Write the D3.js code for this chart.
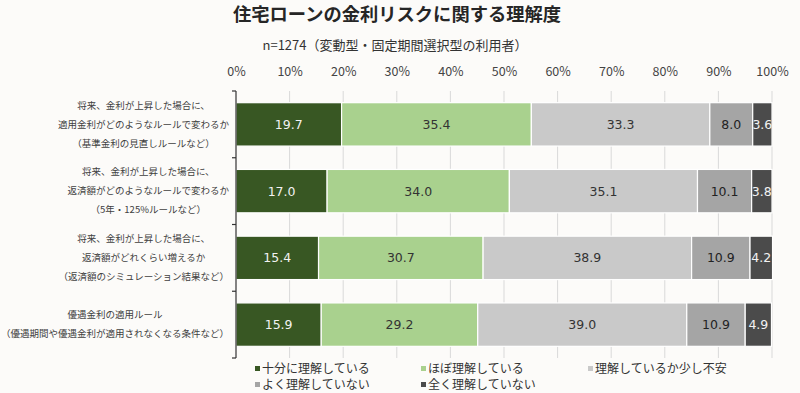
<!DOCTYPE html>
<html>
<head>
<meta charset="utf-8">
<script src="https://cdn.jsdelivr.net/npm/d3@7"></script>
<style>
  html, body { margin: 0; padding: 0; background: #fcfbf9; }
  svg { display: block; }
</style>
</head>
<body>
<div id="chart"></div>
<script>
const title = "住宅ローンの金利リスクに関する理解度";
const subtitle = "n=1274（変動型・固定期間選択型の利用者）";

const categories = [
  ["将来、金利が上昇した場合に、", "適用金利がどのようなルールで変わるか", "（基準金利の見直しルールなど）"],
  ["将来、金利が上昇した場合に、", "返済額がどのようなルールで変わるか", "（5年・125%ルールなど）"],
  ["将来、金利が上昇した場合に、", "返済額がどれくらい増えるか", "（返済額のシミュレーション結果など）"],
  ["優遇金利の適用ルール", "（優遇期間や優遇金利が適用されなくなる条件など）"]
];

const seriesNames = ["十分に理解している", "ほぼ理解している", "理解しているか少し不安", "よく理解していない", "全く理解していない"];

const fullyUnderstand = [19.7, 17.0, 15.4, 15.9];
const mostlyUnderstand = [35.4, 34.0, 30.7, 29.2];
const slightlyUnsure = [33.3, 35.1, 38.9, 39.0];
const notWell = [8.0, 10.1, 10.9, 10.9];
const notAtAll = [3.6, 3.8, 4.2, 4.9];

const xTicks = [0, 10, 20, 30, 40, 50, 60, 70, 80, 90, 100];

const colors = ["#385723", "#a9d18e", "#c9c9c9", "#a5a5a5", "#4b4b4b"];
const labelColors = ["#f2f2f2", "#333", "#333", "#222", "#f2f2f2"];

const width = 800;
const height = 393;
const margin = { top: 91, right: 28, bottom: 35, left: 236 };

const jp = "'Noto Sans CJK JP', 'Noto Sans', sans-serif";
const num = "'DejaVu Sans', 'Noto Sans CJK JP', sans-serif";

const series = [fullyUnderstand, mostlyUnderstand, slightlyUnsure, notWell, notAtAll];

const rows = categories.map((c, i) => {
  let acc = 0;
  const segs = series.map((s, k) => {
    const seg = { k, v: s[i], x0: acc, x1: acc + s[i] };
    acc += s[i];
    return seg;
  });
  return { i, segs };
});

const x = d3.scaleLinear()
  .domain([0, 100])
  .range([margin.left, width - margin.right]);

const y = d3.scaleBand()
  .domain(d3.range(categories.length))
  .range([margin.top, height - margin.bottom])
  .paddingInner(0.35)
  .paddingOuter(0.175);

const svg = d3.select("#chart")
  .append("svg")
  .attr("width", width)
  .attr("height", height);

// title
svg.append("text")
  .attr("x", 397)
  .attr("y", 21)
  .attr("text-anchor", "middle")
  .style("font-family", jp)
  .style("font-weight", "bold")
  .style("font-size", "18.3px")
  .attr("fill", "#262626")
  .text(title);

svg.append("text")
  .attr("x", 395)
  .attr("y", 50)
  .attr("text-anchor", "middle")
  .style("font-family", jp)
  .style("font-size", "13px")
  .attr("fill", "#333")
  .text(subtitle);

// gridlines
svg.append("g")
  .selectAll("line")
  .data(xTicks.slice(1))
  .join("line")
  .attr("x1", d => x(d))
  .attr("x2", d => x(d))
  .attr("y1", margin.top)
  .attr("y2", height - margin.bottom)
  .attr("stroke", "#d9d9d9")
  .attr("stroke-width", 1);

// top axis labels
const xAxis = svg.append("g")
  .attr("transform", `translate(0, ${margin.top - 12})`)
  .call(d3.axisTop(x).tickValues(xTicks).tickFormat(d => d + "%").tickSize(0));
xAxis.select(".domain").remove();
xAxis.selectAll("text")
  .style("font-family", jp)
  .style("font-size", "12.5px")
  .attr("fill", "#444");

// bars
const rowG = svg.append("g")
  .selectAll("g")
  .data(rows)
  .join("g");

rowG.selectAll("rect")
  .data(d => d.segs.map(s => ({ ...s, i: d.i })))
  .join("rect")
  .attr("x", d => x(d.x0))
  .attr("y", d => y(d.i))
  .attr("width", d => x(d.x1) - x(d.x0))
  .attr("height", y.bandwidth())
  .attr("fill", d => colors[d.k])
  .attr("stroke", "#ffffff")
  .attr("stroke-width", 1.2);

rowG.selectAll("text")
  .data(d => d.segs.map(s => ({ ...s, i: d.i })))
  .join("text")
  .attr("x", d => (x(d.x0) + x(d.x1)) / 2)
  .attr("y", d => y(d.i) + y.bandwidth() / 2)
  .attr("dy", "0.36em")
  .attr("text-anchor", "middle")
  .style("font-family", num)
  .style("font-size", "12.5px")
  .attr("fill", d => labelColors[d.k])
  .text(d => d.v.toFixed(1));

// left axis
const yAxis = svg.append("g")
  .attr("transform", `translate(${margin.left}, 0)`);
yAxis.append("line")
  .attr("x1", 0).attr("x2", 0)
  .attr("y1", margin.top).attr("y2", height - margin.bottom)
  .attr("stroke", "#333").attr("stroke-width", 1.2);
const step = y.step();
yAxis.selectAll("line.tick")
  .data(d3.range(categories.length + 1))
  .join("line")
  .attr("class", "tick")
  .attr("x1", -4).attr("x2", 0)
  .attr("y1", d => margin.top + d * step)
  .attr("y2", d => margin.top + d * step)
  .attr("stroke", "#333").attr("stroke-width", 1.2);

// category labels, lines centred within a block right-aligned to the axis
const labelRight = 229;
const lineH = 19;
categories.forEach((lines, i) => {
  const g = svg.append("g");
  const texts = g.selectAll("text")
    .data(lines)
    .join("text")
    .attr("text-anchor", "middle")
    .style("font-family", jp)
    .style("font-size", "9.5px")
    .attr("fill", "#404040")
    .text(d => d);
  let maxW = 0;
  texts.each(function () { maxW = Math.max(maxW, this.getComputedTextLength()); });
  const cy = y(i) + y.bandwidth() / 2;
  texts
    .attr("x", labelRight - maxW / 2)
    .attr("y", (d, j) => cy + (j - (lines.length - 1) / 2) * lineH)
    .attr("dy", "0.35em");
});

// legend
const legendPos = [[255, 369], [421, 369], [588, 369], [255, 385], [421, 385]];
const legend = svg.append("g")
  .selectAll("g")
  .data(seriesNames)
  .join("g")
  .attr("transform", (d, i) => `translate(${legendPos[i][0]}, ${legendPos[i][1]})`);
legend.append("rect")
  .attr("x", 0).attr("y", -3)
  .attr("width", 5).attr("height", 5)
  .attr("fill", (d, i) => colors[i]);
legend.append("text")
  .attr("x", 7)
  .attr("y", 0)
  .attr("dy", "0.35em")
  .style("font-family", jp)
  .style("font-size", "12px")
  .attr("fill", "#333")
  .text(d => d);
</script>
</body>
</html>
